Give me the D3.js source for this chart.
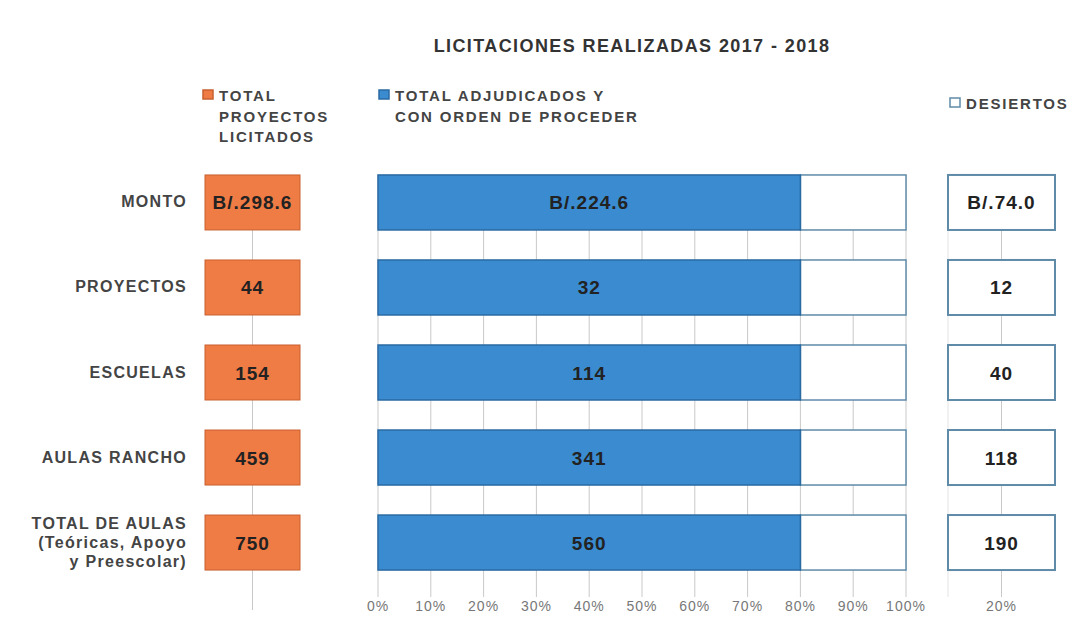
<!DOCTYPE html>
<html>
<head>
<meta charset="utf-8">
<script src="https://cdn.jsdelivr.net/npm/d3@7"></script>
<style>
  body { margin: 0; background: #fff; }
  svg { font-family: "Liberation Sans", Arial, sans-serif; }
  .grid line { stroke: #c9c9c9; stroke-width: 1; }
  .tick-label { font-size: 14px; fill: #777; letter-spacing: 1px; }
</style>
</head>
<body>
<div id="chart"></div>
<script>
// chart data
var categories = ["MONTO", "PROYECTOS", "ESCUELAS", "AULAS RANCHO", "TOTAL DE AULAS"];
var categoryLines = [
  ["MONTO"],
  ["PROYECTOS"],
  ["ESCUELAS"],
  ["AULAS RANCHO"],
  ["TOTAL DE AULAS", "(Teóricas, Apoyo", "y Preescolar)"]
];
var licitados = ["B/.298.6", "44", "154", "459", "750"];
var adjudicados = ["B/.224.6", "32", "114", "341", "560"];
var desiertos = ["B/.74.0", "12", "40", "118", "190"];
var pctAdjudicados = [80, 80, 80, 80, 80];
var pctTicks = [0, 10, 20, 30, 40, 50, 60, 70, 80, 90, 100];
var rightTicks = [20];

var W = 1079, H = 617;
var orange = "#ef7b45", orangeEdge = "#c8602f",
  blue = "#3a8bd0", blueEdge = "#2a6aa3",
  whiteEdge = "#5f8ba8";

var svg = d3.select("#chart").append("svg")
  .attr("width", W)
  .attr("height", H);

var y = d3.scaleBand()
  .domain(categories)
  .range([160, 585])
  .paddingInner(0.353)
  .paddingOuter(0.176);

// three panels
var xL = d3.scaleLinear().domain([0, 1]).range([205, 300]);
var xM = d3.scaleLinear().domain([0, 100]).range([378, 906]);
var xR = d3.scaleLinear().domain([0, 40]).range([948, 1055]);

// title
svg.append("text")
  .attr("x", 632)
  .attr("y", 52)
  .attr("text-anchor", "middle")
  .style("font-size", "18px")
  .style("font-weight", "bold")
  .style("letter-spacing", "1.4px")
  .style("fill", "#333")
  .text("LICITACIONES REALIZADAS 2017 - 2018");

// legend
function legendItem(x, yTop, fill, stroke, lines) {
  svg.append("rect")
    .attr("x", x).attr("y", yTop - 11)
    .attr("width", 10).attr("height", 9)
    .attr("fill", fill).attr("stroke", stroke)
    .attr("stroke-width", 1.5);
  lines.forEach(function(t, i) {
    svg.append("text")
      .attr("x", x + 16)
      .attr("y", yTop + i * 20.5)
      .style("font-size", "15px")
      .style("font-weight", "bold")
      .style("letter-spacing", "1.8px")
      .style("fill", "#444")
      .text(t);
  });
}
legendItem(203, 101, orange, orangeEdge, ["TOTAL", "PROYECTOS", "LICITADOS"]);
legendItem(379, 101, blue, blueEdge, ["TOTAL ADJUDICADOS Y", "CON ORDEN DE PROCEDER"]);
legendItem(950, 109, "#fff", whiteEdge, ["DESIERTOS"]);

// gridlines
var gTop = y.range()[0] + 15, gBot = 597;
svg.append("g").attr("class", "grid")
  .selectAll("line").data(pctTicks).enter().append("line")
  .attr("x1", function(d) { return xM(d); })
  .attr("x2", function(d) { return xM(d); })
  .attr("y1", gTop).attr("y2", gBot);
svg.append("g").attr("class", "grid")
  .selectAll("line").data([0.5]).enter().append("line")
  .attr("x1", function(d) { return xL(d); })
  .attr("x2", function(d) { return xL(d); })
  .attr("y1", gTop).attr("y2", 610);
svg.append("g").attr("class", "grid")
  .selectAll("line").data([0].concat(rightTicks)).enter().append("line")
  .attr("x1", function(d) { return xR(d); })
  .attr("x2", function(d) { return xR(d); })
  .attr("y1", gTop).attr("y2", gBot)
  .style("stroke-opacity", function(d) { return d === 0 ? 0.5 : 1; });

// category labels
var cat = svg.append("g").selectAll("text")
  .data(categories).enter().append("text")
  .attr("text-anchor", "end")
  .style("font-size", "16px")
  .style("font-weight", "bold")
  .style("letter-spacing", "1.3px")
  .style("fill", "#444")
  .attr("y", function(d, i) {
    var n = categoryLines[i].length;
    return y(d) + y.bandwidth() / 2 + 5 - (n - 1) * 9.5;
  });
cat.each(function(d, i) {
  var t = d3.select(this);
  categoryLines[i].forEach(function(line, j) {
    t.append("tspan")
      .attr("x", 187)
      .attr("dy", j === 0 ? 0 : 19)
      .text(line);
  });
});

function valueText(x, cy, text) {
  svg.append("text")
    .attr("x", x)
    .attr("y", cy + 7)
    .attr("text-anchor", "middle")
    .style("font-size", "19px")
    .style("font-weight", "bold")
    .style("letter-spacing", "1px")
    .style("fill", "#222")
    .text(text);
}

// left panel: total licitados
svg.append("g").selectAll("rect")
  .data(categories).enter().append("rect")
  .attr("x", xL(0))
  .attr("y", function(d) { return y(d); })
  .attr("width", xL(1) - xL(0))
  .attr("height", y.bandwidth())
  .attr("fill", orange)
  .attr("stroke", orangeEdge);

// middle panel: adjudicados + remainder
var mid = svg.append("g");
mid.selectAll(".rest")
  .data(categories).enter().append("rect")
  .attr("class", "rest")
  .attr("x", function(d, i) { return xM(pctAdjudicados[i]); })
  .attr("y", function(d) { return y(d); })
  .attr("width", function(d, i) { return xM(100) - xM(pctAdjudicados[i]); })
  .attr("height", y.bandwidth())
  .attr("fill", "#fff")
  .attr("stroke", whiteEdge)
  .attr("stroke-width", 1.5);
mid.selectAll(".adj")
  .data(categories).enter().append("rect")
  .attr("class", "adj")
  .attr("x", xM(0))
  .attr("y", function(d) { return y(d); })
  .attr("width", function(d, i) { return xM(pctAdjudicados[i]) - xM(0); })
  .attr("height", y.bandwidth())
  .attr("fill", blue)
  .attr("stroke", blueEdge)
  .attr("stroke-width", 1.5);

// right panel: desiertos
svg.append("g").selectAll("rect")
  .data(categories).enter().append("rect")
  .attr("x", xR(0))
  .attr("y", function(d) { return y(d); })
  .attr("width", xR(40) - xR(0))
  .attr("height", y.bandwidth())
  .attr("fill", "#fff")
  .attr("stroke", whiteEdge)
  .attr("stroke-width", 2);

categories.forEach(function(c, i) {
  var cy = y(c) + y.bandwidth() / 2;
  valueText((xL(0) + xL(1)) / 2, cy, licitados[i]);
  valueText((xM(0) + xM(pctAdjudicados[i])) / 2, cy, adjudicados[i]);
  valueText((xR(0) + xR(40)) / 2, cy, desiertos[i]);
});

// axes labels
svg.append("g").selectAll("text")
  .data(pctTicks).enter().append("text")
  .attr("class", "tick-label")
  .attr("x", function(d) { return xM(d); })
  .attr("y", 611)
  .attr("text-anchor", "middle")
  .text(function(d) { return d + "%"; });
svg.append("g").selectAll("text")
  .data(rightTicks).enter().append("text")
  .attr("class", "tick-label")
  .attr("x", function(d) { return xR(d); })
  .attr("y", 611)
  .attr("text-anchor", "middle")
  .text(function(d) { return d + "%"; });
</script>
</body>
</html>
